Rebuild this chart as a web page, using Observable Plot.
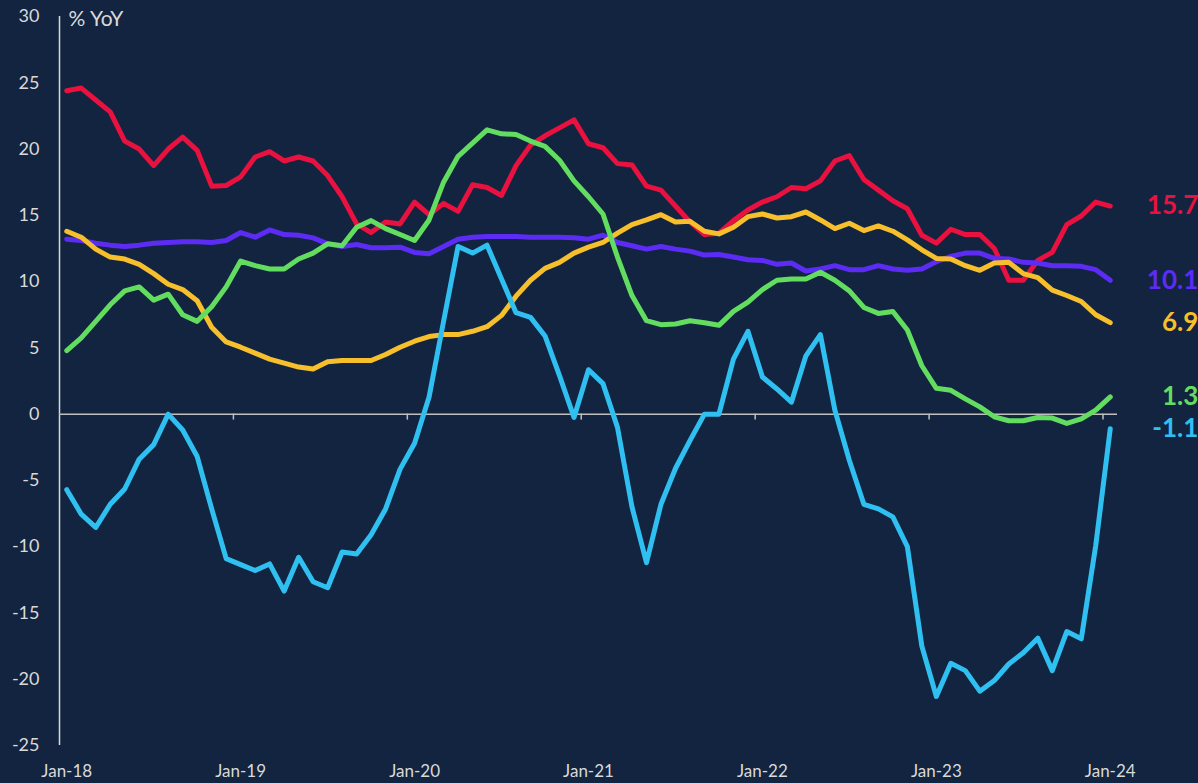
<!DOCTYPE html>
<html>
<head>
<meta charset="utf-8">
<script src="https://cdn.jsdelivr.net/npm/d3@7"></script>
<script src="https://cdn.jsdelivr.net/npm/@observablehq/plot@0.6"></script>
<style>
  html, body { margin: 0; padding: 0; background: #12243f; }
  #chart { width: 1198px; height: 783px; overflow: hidden; }
  svg { display: block; }
</style>
</head>
<body>
<div id="chart"></div>
<script>
// Months Jan-18 .. Jan-24 (73 monthly observations), index 0..72
const monthIndex = d3.range(73);
const tickLabels = ["Jan-18", "Jan-19", "Jan-20", "Jan-21", "Jan-22", "Jan-23", "Jan-24"];
const tickLabelIndex = [0, 12, 24, 36, 48, 60, 72];
const yTicks = [-25, -20, -15, -10, -5, 0, 5, 10, 15, 20, 25, 30];

const seriesA = [24.4, 24.6, 23.7, 22.8, 20.6, 20.0, 18.75, 20.0, 20.9, 19.9, 17.2, 17.25,
  17.9, 19.4, 19.8, 19.1, 19.4, 19.1, 18.0, 16.4, 14.35, 13.7, 14.5, 14.35,
  16.0, 15.05, 15.9, 15.3, 17.3, 17.1, 16.5, 18.75, 20.3, 21.0, 21.6, 22.2,
  20.4, 20.1, 18.9, 18.8, 17.2, 16.9, 15.7, 14.5, 13.55, 13.65, 14.6, 15.4,
  16.0, 16.4, 17.1, 17.0, 17.6, 19.1, 19.5, 17.7, 16.9, 16.1, 15.5, 13.5,
  12.9, 13.95, 13.55, 13.55, 12.5, 10.1, 10.1, 11.6, 12.2, 14.3, 14.95, 16.0, 15.7];

const seriesB = [13.2, 13.1, 12.9, 12.75, 12.65, 12.75, 12.9, 12.95, 13.0, 13.0, 12.95, 13.1,
  13.7, 13.35, 13.9, 13.55, 13.5, 13.3, 12.85, 12.65, 12.8, 12.55, 12.55, 12.6,
  12.2, 12.1, 12.65, 13.2, 13.35, 13.4, 13.4, 13.4, 13.35, 13.35, 13.35, 13.3,
  13.2, 13.5, 12.95, 12.7, 12.45, 12.65, 12.45, 12.3, 12.0, 12.05, 11.85, 11.65,
  11.6, 11.3, 11.4, 10.8, 10.95, 11.2, 10.9, 10.9, 11.2, 10.95, 10.85, 10.95,
  11.5, 11.9, 12.15, 12.15, 11.75, 11.7, 11.45, 11.4, 11.2, 11.2, 11.15, 10.9, 10.1];

const seriesC = [13.8, 13.35, 12.45, 11.85, 11.7, 11.3, 10.6, 9.8, 9.4, 8.55, 6.55, 5.45,
  5.05, 4.6, 4.15, 3.85, 3.55, 3.4, 3.95, 4.05, 4.05, 4.05, 4.5, 5.05,
  5.5, 5.85, 6.0, 6.0, 6.25, 6.6, 7.45, 8.9, 10.1, 11.0, 11.45, 12.15,
  12.6, 12.95, 13.65, 14.3, 14.65, 15.05, 14.5, 14.55, 13.8, 13.6, 14.1, 14.9,
  15.1, 14.8, 14.9, 15.25, 14.65, 14.0, 14.4, 13.85, 14.2, 13.8, 13.15, 12.4,
  11.75, 11.7, 11.2, 10.85, 11.4, 11.45, 10.6, 10.3, 9.35, 8.95, 8.5, 7.5, 6.9];

const seriesD = [4.8, 5.75, 7.0, 8.25, 9.3, 9.6, 8.6, 9.05, 7.5, 7.0, 8.1, 9.6,
  11.55, 11.2, 10.95, 10.95, 11.7, 12.15, 12.85, 12.7, 14.1, 14.6, 14.0, 13.55,
  13.1, 14.65, 17.5, 19.45, 20.45, 21.45, 21.15, 21.1, 20.6, 20.2, 19.15, 17.6,
  16.4, 15.1, 11.85, 8.95, 7.05, 6.75, 6.8, 7.05, 6.9, 6.7, 7.75, 8.45,
  9.4, 10.1, 10.2, 10.2, 10.7, 10.1, 9.3, 8.05, 7.6, 7.75, 6.35, 3.65,
  1.95, 1.8, 1.15, 0.55, -0.2, -0.5, -0.5, -0.25, -0.3, -0.7, -0.35, 0.3, 1.3];

const seriesE = [-5.7, -7.55, -8.55, -6.8, -5.65, -3.4, -2.3, 0.0, -1.2, -3.2, -7.15, -10.9,
  -11.35, -11.8, -11.3, -13.35, -10.8, -12.65, -13.1, -10.4, -10.55, -9.1, -7.15, -4.15,
  -2.2, 1.3, 7.0, 12.65, 12.15, 12.75, 10.2, 7.65, 7.3, 5.9, 2.9, -0.25,
  3.35, 2.3, -1.0, -7.0, -11.2, -6.8, -4.1, -2.0, 0.0, 0.0, 4.15, 6.25,
  2.8, 1.9, 0.9, 4.4, 6.0, 0.3, -3.5, -6.8, -7.15, -7.75, -10.0, -17.5,
  -21.3, -18.8, -19.35, -20.9, -20.1, -18.85, -18.0, -16.9, -19.35, -16.4, -16.95, -9.9, -1.1];

const seriesNames = ["A", "B", "C", "D", "E"];
const seriesValues = [seriesA, seriesB, seriesC, seriesD, seriesE];
const seriesColors = ["#e8113f", "#5c2cf4", "#f6bf2b", "#63dd60", "#2fc0f1"];

const rows = [];
seriesNames.forEach((name, k) => {
  seriesValues[k].forEach((v, i) => rows.push({ series: name, i: monthIndex[i], v }));
});
const lastRows = seriesNames.map((name, k) => ({
  series: name, i: 72, v: seriesValues[k][72]
}));
const boundaryTicks = [11.5, 23.5, 35.5, 47.5, 59.5, 71.5];

const textColor = "#d9d9d9";
const font = "Lato, 'Open Sans', sans-serif";

const chart = Plot.plot({
  width: 1198,
  height: 783,
  marginTop: 16,
  marginBottom: 38,
  marginLeft: 59,
  marginRight: 81,
  style: { background: "#12243f", color: textColor, fontFamily: font },
  x: { type: "linear", domain: [-0.5, 72.5], axis: null, label: null },
  y: { domain: [-25, 30], axis: null, label: null },
  color: { type: "ordinal", domain: seriesNames, range: seriesColors },
  marks: [
    Plot.axisY({
      ticks: yTicks, tickSize: 0, tickPadding: 20, fontSize: 18, fill: textColor,
      tickFormat: d => String(d), label: null
    }),
    Plot.axisX({
      ticks: tickLabelIndex, tickSize: 0, tickPadding: 19, fontSize: 17, fill: textColor,
      tickFormat: (d) => tickLabels[tickLabelIndex.indexOf(d)], label: null
    }),
    Plot.ruleX([-0.5], { y1: -25, y2: 30, stroke: "#d9d9d9", strokeWidth: 1.5 }),
    Plot.ruleY([0], { x1: -0.5, x2: 72.5, stroke: "#bfbfbf", strokeWidth: 1.5 }),
    Plot.ruleX(boundaryTicks, { y1: 0, y2: -0.45, stroke: "#bfbfbf", strokeWidth: 1.5 }),
    Plot.lineY(rows, {
      x: "i", y: "v", z: "series", stroke: "series",
      strokeWidth: 5, strokeLinejoin: "round", strokeLinecap: "round"
    }),
    Plot.text(["% YoY"], {
      frameAnchor: "top-left", dx: 9, dy: 3, textAnchor: "start", lineAnchor: "middle",
      fontSize: 21, fill: textColor
    }),
    Plot.text(lastRows, {
      x: "i", y: "v", text: d => d.v.toFixed(1), fill: "series",
      dx: 88, textAnchor: "end", lineAnchor: "middle",
      fontSize: 26, fontWeight: "bold"
    })
  ]
});
document.getElementById("chart").appendChild(chart);
</script>
</body>
</html>
